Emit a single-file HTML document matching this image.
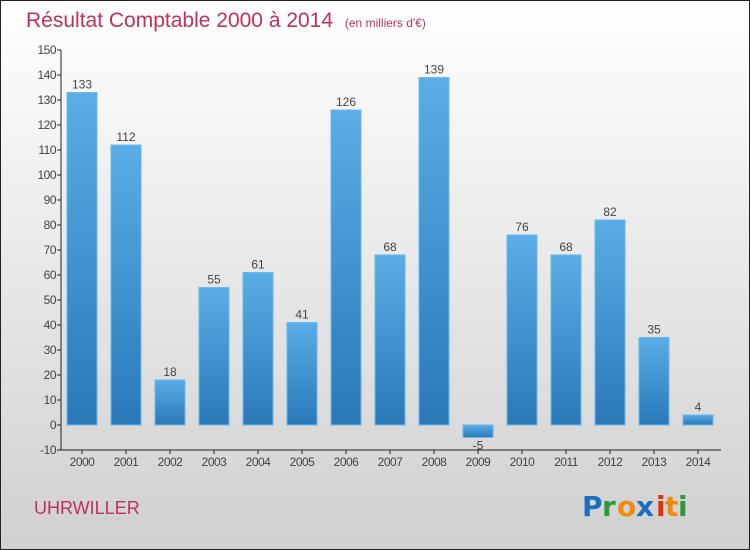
<!DOCTYPE html>
<html><head><meta charset="utf-8"><style>
body{margin:0}
#c{width:750px;height:550px;position:relative;overflow:hidden;font-family:"Liberation Sans",sans-serif}
</style></head><body>
<div id="c">
<svg id="s" width="750" height="550" xmlns="http://www.w3.org/2000/svg">
<defs>
<linearGradient id="bg" x1="0" y1="0" x2="0" y2="1"><stop offset="0" stop-color="#ffffff"/><stop offset="1" stop-color="#d0d0d0"/></linearGradient>
<linearGradient id="bar" x1="0" y1="0" x2="0" y2="1"><stop offset="0" stop-color="#5aade6"/><stop offset="1" stop-color="#2a78b8"/></linearGradient>
</defs>
<rect x="0.5" y="0.5" width="749" height="549" fill="url(#bg)" stroke="#222"/>
<text x="26" y="27" font-size="21" fill="#c0305a">Résultat Comptable 2000 à 2014 <tspan font-size="12" dx="6">(en milliers d'€)</tspan></text>
<text x="34" y="514" font-size="18" fill="#c0305a">UHRWILLER</text>
<g font-size="28" font-weight="bold" font-family="'DejaVu Sans',sans-serif">
<text x="582" y="516" fill="#1a6fc0">P</text><text x="602" y="516" fill="#2a9a3a">r</text><text x="617" y="516" fill="#f08a10">o</text><text x="636" y="516" fill="#1a6fc0">x</text><text x="656" y="516" fill="#e03010">i</text><text x="665" y="516" fill="#f08a10">t</text><text x="678" y="516" fill="#2a9a3a">i</text>
</g>
<g id="g"></g>
</svg>
</div>
<script>
const years=["2000","2001","2002","2003","2004","2005","2006","2007","2008","2009","2010","2011","2012","2013","2014"];
const values=[133,112,18,55,61,41,126,68,139,-5,76,68,82,35,4];
const ticks=[-10,0,10,20,30,40,50,60,70,80,90,100,110,120,130,140,150];
const NS="http://www.w3.org/2000/svg";
const g=document.getElementById('g');
const y=v=>425-v*2.5;
const x=i=>82+i*44;
function el(t,a,txt){const e=document.createElementNS(NS,t);for(const k in a)e.setAttribute(k,a[k]);if(txt!==undefined)e.textContent=txt;g.appendChild(e);return e;}
let ax=el('line',{x1:61,y1:y(150),x2:61,y2:y(-10),stroke:'#222'});


let xa=el('line',{x1:61,y1:450,x2:721,y2:450,stroke:'#222'});


ticks.forEach(t=>{
 el('line',{x1:57,y1:y(t),x2:61,y2:y(t),stroke:'#222'});
 const l=el('text',{x:56,y:y(t)+4,'font-size':12,'text-anchor':'end',fill:'#444','letter-spacing':'-0.5'},t);
 
 
});
values.forEach((v,i)=>{
 const top=Math.min(y(v),y(0)),h=Math.abs(y(v)-y(0));
 const b=el('rect',{x:x(i)-15,y:top,width:30,height:h,fill:'url(#bar)',stroke:'#6ab8ea','stroke-width':1});
 
 
 const ly=v>=0?y(v)-4:y(v)+12;
 const t=el('text',{x:x(i),y:ly,'font-size':12,'text-anchor':'middle',fill:'#444'},v);
 
 
 el('line',{x1:x(i),y1:450,x2:x(i),y2:454,stroke:'#222'});
 const xl=el('text',{x:x(i),y:466,'font-size':12,'text-anchor':'middle',fill:'#444','letter-spacing':'-0.5'},years[i]);
 
 
});
</script>
</body></html>
